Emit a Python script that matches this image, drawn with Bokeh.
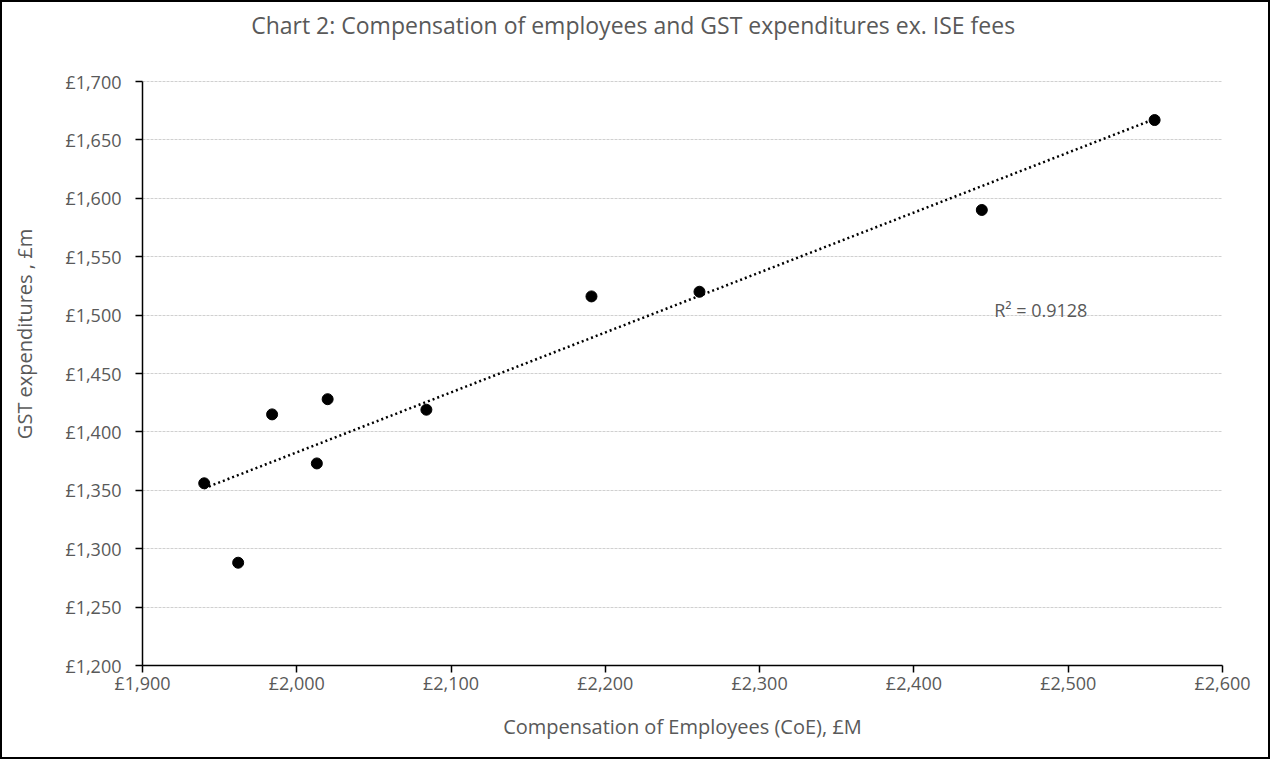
import numpy as np
from bokeh.plotting import figure
from bokeh.models import FixedTicker, Range1d, Label
from bokeh.embed import file_html
from bokeh.resources import INLINE

# Data
coe = [1940, 1962, 1984, 2013, 2020, 2084, 2191, 2261, 2444, 2556]
gst = [1356, 1288, 1415, 1373, 1428, 1419, 1516, 1520, 1590, 1667]

x_ticks = [1900, 2000, 2100, 2200, 2300, 2400, 2500, 2600]
x_tick_labels = ["£1,900", "£2,000", "£2,100", "£2,200", "£2,300", "£2,400", "£2,500", "£2,600"]
y_ticks = [1200, 1250, 1300, 1350, 1400, 1450, 1500, 1550, 1600, 1650, 1700]
y_tick_labels = ["£1,200", "£1,250", "£1,300", "£1,350", "£1,400", "£1,450",
                 "£1,500", "£1,550", "£1,600", "£1,650", "£1,700"]

title_text = "Chart 2: Compensation of employees and GST expenditures ex. ISE fees"
x_label = "Compensation of Employees (CoE), £M"
y_label = "GST expenditures , £m"
r2_text = "R² = 0.9128"
r2_pos = (2452, 1504)

FONT = "Open Sans"
GREY = "#595959"

X0, X1 = 1900, 2600
Y0, Y1 = 1200, 1700
TOP_PAD_PX = 79       # space above the plotted area that holds the title
AREA_PX = 584         # height of the plotted area in pixels
y_top = Y1 + TOP_PAD_PX * (Y1 - Y0) / AREA_PX

p = figure(width=1270, height=759, output_backend="svg", toolbar_location=None,
           x_range=Range1d(X0, X1), y_range=Range1d(Y0, y_top),
           min_border_left=140, min_border_right=50, min_border_top=0, min_border_bottom=96)
p.styles = {"border": "2px solid #000"}
p.outline_line_color = None
p.background_fill_color = "white"
p.border_fill_color = "white"

# Title placed in the band above the value area
p.add_layout(Label(x=2218, y=Y1 + 57 * (Y1 - Y0) / AREA_PX, text=title_text,
                   text_font=FONT, text_font_size="23px", text_color=GREY,
                   text_align="center", text_baseline="middle"))

for ax, ticks, labels in ((p.xaxis, x_ticks, x_tick_labels), (p.yaxis, y_ticks, y_tick_labels)):
    ax.ticker = FixedTicker(ticks=ticks)
    ax.major_label_overrides = {t: l for t, l in zip(ticks, labels)}
    ax.minor_tick_line_color = None
    ax.major_tick_in = 0
    ax.major_tick_out = 7
    ax.axis_line_color = "#000000"
    ax.axis_line_width = 1.5
    ax.major_tick_line_color = "#000000"
    ax.major_tick_line_width = 1.5
    ax.major_label_text_font = FONT
    ax.major_label_text_font_size = "18px"
    ax.major_label_text_color = GREY
    ax.axis_label_text_font = FONT
    ax.axis_label_text_font_size = "20px"
    ax.axis_label_text_font_style = "normal"
    ax.axis_label_text_color = GREY

p.yaxis.bounds = (Y0, Y1)
p.xaxis.axis_label = x_label
p.yaxis.axis_label = y_label
p.xaxis.major_label_standoff = -2
p.yaxis.major_label_standoff = 14
p.xaxis.axis_label_standoff = 15
p.yaxis.axis_label_standoff = 24

p.xgrid.grid_line_color = None
p.ygrid.grid_line_color = "#d0d0d0"
p.ygrid.grid_line_dash = "3 1"
p.ygrid.grid_line_width = 1

# Linear trendline from the data
slope, intercept = np.polyfit(coe, gst, 1)
tx = [min(coe), max(coe)]
ty = [slope * v + intercept for v in tx]
p.line(tx, ty, line_color="black", line_width=2.5, line_dash="2 3")

p.scatter(coe, gst, size=11, color="black")

p.add_layout(Label(x=r2_pos[0], y=r2_pos[1], text=r2_text, text_font=FONT,
                   text_font_size="18px", text_color=GREY,
                   text_baseline="middle", text_align="left"))

open("out.html", "w").write(file_html(p, INLINE))
